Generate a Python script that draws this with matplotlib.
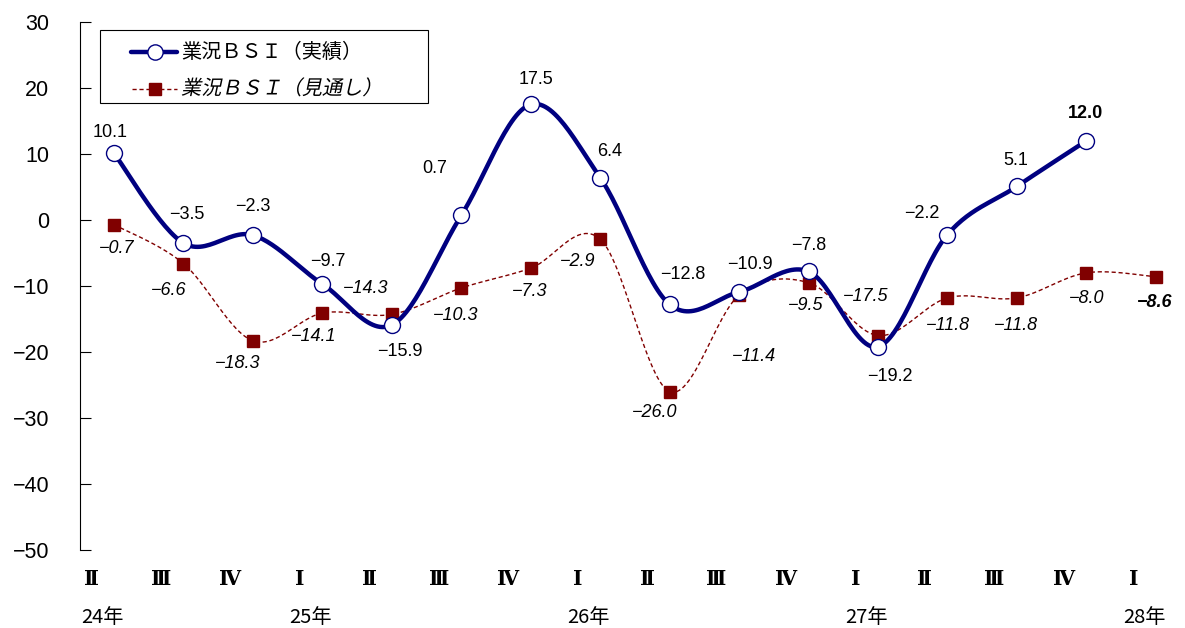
import numpy as np
import matplotlib
matplotlib.use("Agg")
import matplotlib.pyplot as plt
from matplotlib.patches import Rectangle
from matplotlib.transforms import Affine2D
from matplotlib.patheffects import AbstractPathEffect

# ---------------- data ----------------
quarters = ["Ⅱ", "Ⅲ", "Ⅳ", "Ⅰ", "Ⅱ", "Ⅲ", "Ⅳ", "Ⅰ", "Ⅱ", "Ⅲ", "Ⅳ", "Ⅰ", "Ⅱ", "Ⅲ", "Ⅳ", "Ⅰ"]
years = {0: "24年", 3: "25年", 7: "26年", 11: "27年", 15: "28年"}
actual = [10.1, -3.5, -2.3, -9.7, -15.9, 0.7, 17.5, 6.4, -12.8, -10.9, -7.8, -19.2, -2.2, 5.1, 12.0]
forecast = [-0.7, -6.6, -18.3, -14.1, -14.3, -10.3, -7.3, -2.9, -26.0, -11.4, -9.5, -17.5, -11.8, -11.8, -8.0, -8.6]
label_actual = "業況ＢＳＩ（実績）"
label_forecast = "業況ＢＳＩ（見通し）"
y_ticks = [30, 20, 10, 0, -10, -20, -30, -40, -50]

# label offsets in pixels (dx, dy) - layout only
off_actual = [(-4, 21), (3, 29), (0, 29), (5, 23), (8, -27), (-27, 47), (5, 25), (9, 26),
              (13, 30), (11, 27), (0, 26), (12, -30), (-26, 21), (-1, 26), (-1, 27)]
off_fore = [(3, -24), (-15, -27), (-15, -23), (-9, -23), (-26, 26), (-6, -28), (-1, -23), (-23, -22),
            (-15, -21), (15, -61), (-3, -23), (-12, 39), (0, -28), (-1, -28), (0, -26), (-1, -26)]

NAVY = "#000080"
MAROON = "#800000"
W, H = 1185, 628


def smooth(xs, ys, n=30):
    xs = np.asarray(xs, float)
    ys = np.asarray(ys, float)
    P = np.column_stack([xs, ys])
    out = []
    for i in range(len(P) - 1):
        p0 = P[i - 1] if i > 0 else P[i]
        p1 = P[i]
        p2 = P[i + 1]
        p3 = P[i + 2] if i + 2 < len(P) else P[i + 1]
        c1 = p1 + (p2 - p0) / 6.0
        c2 = p2 - (p3 - p1) / 6.0
        t = np.linspace(0, 1, n)[:, None]
        seg = ((1 - t) ** 3) * p1 + 3 * ((1 - t) ** 2) * t * c1 + 3 * (1 - t) * t ** 2 * c2 + t ** 3 * p2
        out.append(seg if i == 0 else seg[1:])
    s = np.vstack(out)
    return s[:, 0], s[:, 1]


class Oblique(AbstractPathEffect):
    def __init__(self, angle=12):
        super().__init__()
        self.a = np.radians(angle)

    def draw_path(self, renderer, gc, tpath, affine, rgbFace=None):
        m = affine.get_matrix()
        x0, y0 = m[0, 2], m[1, 2]
        extra = Affine2D().translate(-x0, -y0).skew(self.a, 0).translate(x0, y0)
        renderer.draw_path(gc, tpath, affine + extra, rgbFace)


fig = plt.figure(figsize=(W / 100, H / 100), dpi=100)
ax = fig.add_axes([80 / W, 78 / H, 1105 / W, 528 / H])

xa = np.arange(len(actual))
xf = np.arange(len(forecast))

sx, sy = smooth(xf, forecast)
ax.plot(sx, sy, color=MAROON, lw=1.0, ls=(0, (3, 2)), zorder=2)
ax.plot(xf, forecast, ls="none", marker="s", ms=8, color=MAROON, mec=MAROON, zorder=3)

sx, sy = smooth(xa, actual)
ax.plot(sx, sy, color=NAVY, lw=3.2, solid_capstyle="round", zorder=4)
ax.plot(xa, actual, ls="none", marker="o", ms=11.5, mfc="white", mec=NAVY, mew=1.0, zorder=5)

ax.set_xlim(-0.49, 15.42)
ax.set_ylim(-50, 30)
ax.set_yticks(y_ticks)
ax.set_yticklabels([f"{v}".replace("-", "−") for v in y_ticks], fontsize=15.5, family="Liberation Sans")
ax.tick_params(axis="y", direction="in", length=8, width=0.8, pad=22)
ax.set_xticks([])
for s in ["top", "right", "bottom"]:
    ax.spines[s].set_visible(False)
ax.spines["left"].set_linewidth(0.8)


def fmt(v):
    return f"{v:.1f}".replace("-", "−")


px = 72 / 100.0
for i, v in enumerate(actual):
    dx, dy = off_actual[i]
    bold = i == len(actual) - 1
    ax.annotate(fmt(v), (i, v), xytext=(dx * px, dy * px), textcoords="offset points",
                ha="center", va="center", fontsize=13, family="Liberation Sans",
                fontweight="bold" if bold else "normal", zorder=6)
for i, v in enumerate(forecast):
    dx, dy = off_fore[i]
    bold = i == len(forecast) - 1
    ax.annotate(fmt(v), (i, v), xytext=(dx * px, dy * px), textcoords="offset points",
                ha="center", va="center", fontsize=13, family="Liberation Sans", style="italic",
                fontweight="bold" if bold else "normal", zorder=6)

# category labels
for i, q in enumerate(quarters):
    ax.text(i - 0.325, -54.35, q, ha="center", va="center", fontsize=14.5, fontweight="bold",
            family=["DejaVu Serif", "Noto Sans CJK JP"], clip_on=False)
for i, yl in years.items():
    ax.text(i - 0.17, -60.25, yl, ha="center", va="center", fontsize=14.5,
            family=["Noto Sans CJK JP", "DejaVu Sans"], clip_on=False)

# legend drawn in a pixel-coordinate overlay
lax = fig.add_axes([0, 0, 1, 1], facecolor="none")
lax.set_xlim(0, W)
lax.set_ylim(H, 0)
lax.axis("off")
lax.add_patch(Rectangle((99.5, 29.5), 328.5, 73, fill=True, facecolor="white",
                        edgecolor="black", lw=0.8))
lax.plot([131, 177], [52, 52], color=NAVY, lw=3.2, solid_capstyle="round")
lax.plot([154.5], [52], marker="o", ms=11, mfc="white", mec=NAVY, mew=1.0)
lax.plot([132, 177], [89, 89], color=MAROON, lw=1.0, ls=(0, (3, 2)))
lax.plot([155], [89], marker="s", ms=8, color=MAROON, mec=MAROON)
fam = ["Noto Sans CJK JP", "DejaVu Sans"]
lax.text(181, 52, label_actual, ha="left", va="center", fontsize=14.5, family=fam)
t2 = lax.text(181, 89, label_forecast, ha="left", va="center", fontsize=14.5, family=fam)
t2.set_path_effects([Oblique(12)])

fig.savefig("out.png", dpi=100)
